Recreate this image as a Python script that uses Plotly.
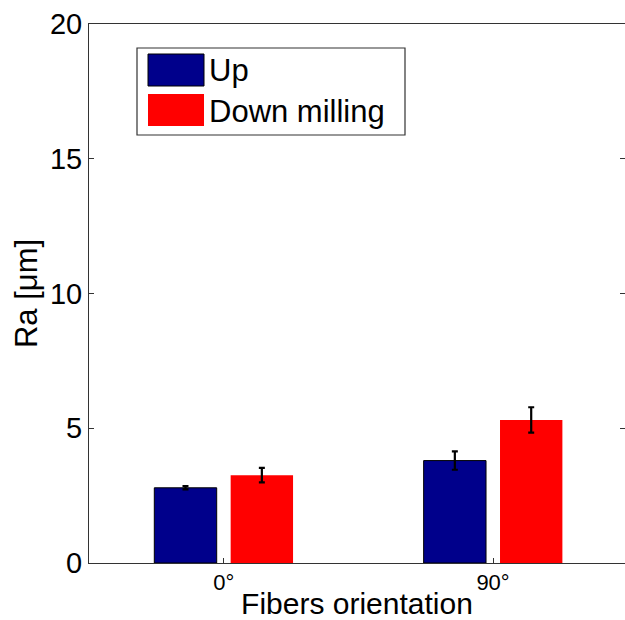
import plotly.graph_objects as go

# ---- data ----
categories = ["0°", "90°"]
cat_pos = [1, 2]
up_values = [2.79, 3.80]
up_errors = [0.06, 0.34]
down_values = [3.26, 5.31]
down_errors = [0.27, 0.47]
series_names = ["Up", "Down milling"]
y_ticks = [0, 5, 10, 15, 20]

W, H = 625, 620
L, R, T, B = 89, 0, 24, 57
pw, ph = W - L - R, H - T - B

def px(x):
    return (x - L) / pw

def py(y):
    return (H - B - y) / ph

FONT = "Liberation Sans, Arial, sans-serif"
BLUE = "#00008B"
RED = "#FF0000"

fig = go.Figure()
fig.add_trace(go.Bar(
    x=cat_pos, y=up_values, name=series_names[0],
    marker=dict(color=BLUE, line=dict(color="black", width=1)),
    error_y=dict(type="data", array=up_errors, color="black", thickness=2.2, width=3),
))
fig.add_trace(go.Bar(
    x=cat_pos, y=down_values, name=series_names[1],
    marker=dict(color=RED, line=dict(color=RED, width=0)),
    error_y=dict(type="data", array=down_errors, color="black", thickness=2.2, width=3),
))

# manual MATLAB-like legend
shapes = [
    dict(type="rect", xref="paper", yref="paper", x0=px(137), x1=px(405), y0=py(135), y1=py(48),
         line=dict(color="#333333", width=1.2), fillcolor="white", layer="above"),
    dict(type="rect", xref="paper", yref="paper", x0=px(148), x1=px(204), y0=py(86), y1=py(54),
         line=dict(color="black", width=1), fillcolor=BLUE, layer="above"),
    dict(type="rect", xref="paper", yref="paper", x0=px(148), x1=px(204), y0=py(126), y1=py(94),
         line=dict(width=0), fillcolor=RED, layer="above"),
]
annotations = [
    dict(text=series_names[0], xref="paper", yref="paper", x=px(207), y=py(71),
         xanchor="left", yanchor="middle", showarrow=False, font=dict(size=31, color="black", family=FONT)),
    dict(text=series_names[1], xref="paper", yref="paper", x=px(207), y=py(111),
         xanchor="left", yanchor="middle", showarrow=False, font=dict(size=31, color="black", family=FONT)),
]

fig.update_layout(
    width=W, height=H,
    margin=dict(l=L, r=R, t=T, b=B, pad=0),
    paper_bgcolor="white", plot_bgcolor="white",
    barmode="group", bargap=0.433, bargroupgap=0.183,
    showlegend=False,
    font=dict(family=FONT, color="black"),
    shapes=shapes, annotations=annotations,
)
fig.update_xaxes(
    range=[0.5, 2.49], tickvals=cat_pos, ticktext=categories,
    ticks="inside", ticklen=5, tickcolor="#333333",
    showline=True, linecolor="#333333", linewidth=1, mirror=True,
    showgrid=False, zeroline=False,
    tickfont=dict(size=22, family=FONT, color="black"),
    title=dict(text="Fibers orientation", font=dict(size=30, family=FONT, color="black"), standoff=3),
    automargin=False,
)
fig.update_yaxes(
    range=[0, 20], tickvals=y_ticks,
    ticks="inside", ticklen=5, tickcolor="#333333",
    showline=True, linecolor="#333333", linewidth=1, mirror="ticks",
    showgrid=False, zeroline=False,
    tickfont=dict(size=29, family=FONT, color="black"),
    title=dict(text="Ra [μm]", font=dict(size=31, family=FONT, color="black"), standoff=3),
    automargin=False,
)

fig.write_html("out.html")
